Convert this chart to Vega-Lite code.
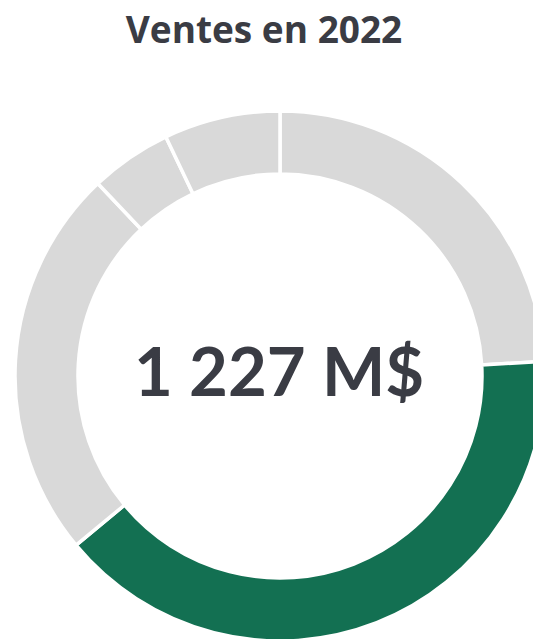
{
  "$schema": "https://vega.github.io/schema/vega-lite/v6.json",
  "autosize": {"type": "none"},
  "padding": {"top": 70, "left": 0, "right": 0, "bottom": 0},
  "width": 560,
  "height": 612,
  "background": "white",
  "title": {
    "text": "Ventes en 2022",
    "font": "Open Sans",
    "fontSize": 37,
    "fontWeight": 700,
    "color": "#3a3c44",
    "baseline": "alphabetic",
    "anchor": "middle",
    "dx": -16,
    "offset": -10
  },
  "config": {"view": {"stroke": null}},
  "layer": [
    {
      "data": {
        "values": [
          {"segment": "S1", "ordre": 1, "valeur": 296},
          {"segment": "S2", "ordre": 2, "valeur": 489},
          {"segment": "S3", "ordre": 3, "valeur": 294},
          {"segment": "S4", "ordre": 4, "valeur": 61},
          {"segment": "S5", "ordre": 5, "valeur": 87}
        ]
      },
      "mark": {"type": "arc", "outerRadius": 265, "innerRadius": 202, "stroke": "white", "strokeWidth": 3.5},
      "encoding": {
        "theta": {"field": "valeur", "type": "quantitative", "stack": true},
        "order": {"field": "ordre", "type": "ordinal"},
        "color": {
          "field": "segment",
          "type": "nominal",
          "scale": {"domain": ["S1", "S2", "S3", "S4", "S5"], "range": ["#d9d9d9", "#137052", "#d9d9d9", "#d9d9d9", "#d9d9d9"]},
          "legend": null
        }
      }
    },
    {
      "data": {"values": [{"total": "1 227 M$"}]},
      "mark": {"type": "text", "font": "Lato", "fontSize": 67, "fontWeight": 700, "color": "#3a3c44", "baseline": "middle", "align": "center", "dx": -1},
      "encoding": {"text": {"field": "total", "type": "nominal"}}
    }
  ]
}
